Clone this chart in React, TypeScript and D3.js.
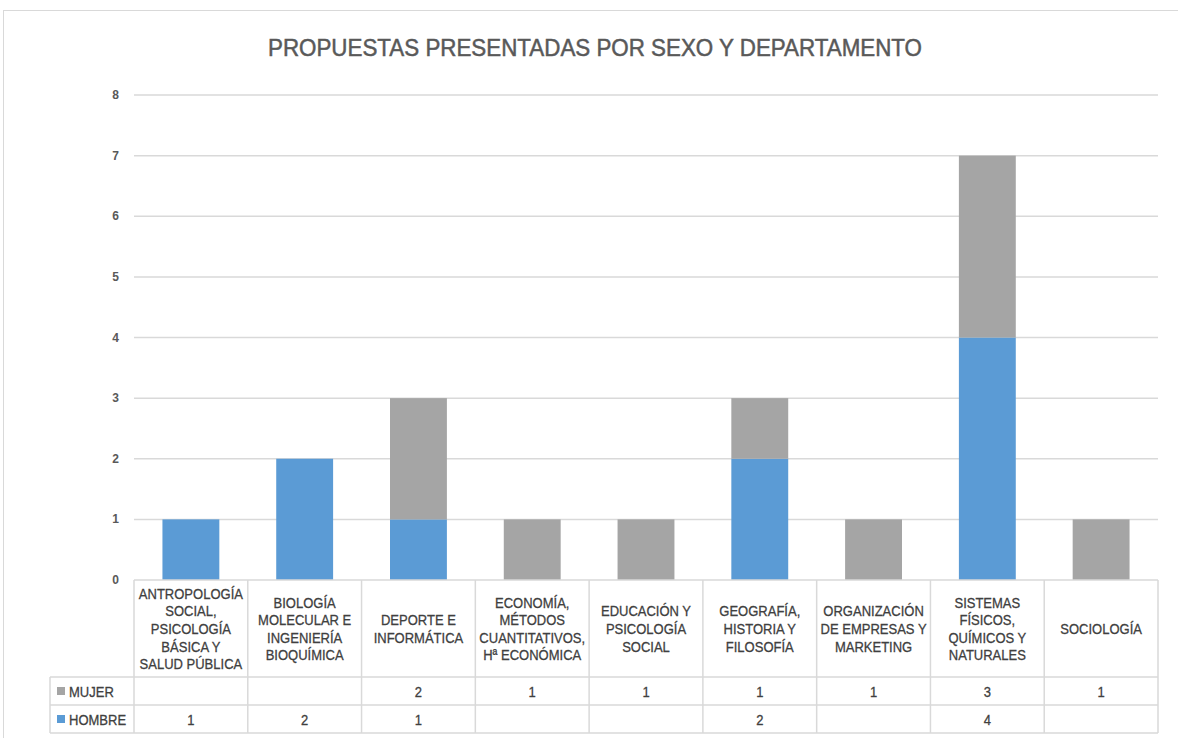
import React from "react";
import * as d3 from "d3";

const title = "PROPUESTAS PRESENTADAS POR SEXO Y DEPARTAMENTO";
const categories = [
  "ANTROPOLOGÍA\nSOCIAL,\nPSICOLOGÍA\nBÁSICA Y\nSALUD PÚBLICA",
  "BIOLOGÍA\nMOLECULAR E\nINGENIERÍA\nBIOQUÍMICA",
  "DEPORTE E\nINFORMÁTICA",
  "ECONOMÍA,\nMÉTODOS\nCUANTITATIVOS,\nHª ECONÓMICA",
  "EDUCACIÓN Y\nPSICOLOGÍA\nSOCIAL",
  "GEOGRAFÍA,\nHISTORIA Y\nFILOSOFÍA",
  "ORGANIZACIÓN\nDE EMPRESAS Y\nMARKETING",
  "SISTEMAS\nFÍSICOS,\nQUÍMICOS Y\nNATURALES",
  "SOCIOLOGÍA",
];
const mujer: (number | null)[] = [null, null, 2, 1, 1, 1, 1, 3, 1];
const hombre: (number | null)[] = [1, 2, 1, null, null, 2, null, 4, null];
const yTicks = [0, 1, 2, 3, 4, 5, 6, 7, 8];

const seriesNames = ["MUJER", "HOMBRE"];
const BLUE = "#5B9BD5";
const GRAY = "#A5A5A5";
const FONT = "'Liberation Sans', Arial, sans-serif";
const SX = 0.84;

function NarrowText({ x, y, anchor = "middle", size = 15.5, fill = "#404040", children }: any) {
  return (
    <text transform={`translate(${x},${y}) scale(${SX},1)`} textAnchor={anchor} fontSize={size} fill={fill} stroke={fill} strokeWidth={0.3}>
      {children}
    </text>
  );
}

export default function App() {
  const W = 1178, H = 738;
  const left = 134, right = 1158, top = 95, bottom = 580;
  const x = d3.scaleBand<number>().domain(d3.range(categories.length)).range([left, right]).paddingInner(0).paddingOuter(0);
  const y = d3.scaleLinear().domain([0, 8]).range([bottom, top]);
  const bw = x.bandwidth() * 0.5;
  const rowCat = [580, 677];
  const rowM = [677, 705];
  const rowH = [705, 733];
  const legendLeft = 50;
  const lineH = 17.6;
  const border = "#D9D9D9";

  return (
    <svg width={W} height={H} style={{ position: "absolute", left: 0, top: 0, background: "#fff" }} fontFamily={FONT}>
      <rect x={3.5} y={10.5} width={W + 10} height={H + 10} fill="#fff" stroke={border} />
      <text x={268} y={56} fontSize={24} fill="#595959" stroke="#595959" strokeWidth={0.5} textLength={654} lengthAdjust="spacingAndGlyphs">{title}</text>
      {yTicks.map((t) => (
        <g key={t}>
          {t > 0 && <line x1={left} x2={right} y1={y(t)} y2={y(t)} stroke={border} strokeWidth={1.5} />}
          <text x={119} y={y(t) + 4} textAnchor="end" fontSize={12} fontWeight="bold" fill="#595959">{t}</text>
        </g>
      ))}
      {categories.map((c, i) => {
        const h = hombre[i] ?? 0;
        const m = mujer[i] ?? 0;
        const bx = (x(i) as number) + (x.bandwidth() - bw) / 2;
        return (
          <g key={i}>
            {h > 0 && <rect x={bx} y={y(h)} width={bw} height={y(0) - y(h)} fill={BLUE} />}
            {m > 0 && <rect x={bx} y={y(h + m)} width={bw} height={y(h) - y(h + m)} fill={GRAY} />}
          </g>
        );
      })}
      {/* table */}
      <g stroke={border} strokeWidth={1.5} fill="none">
        <line x1={left} x2={right} y1={bottom} y2={bottom} />
        <line x1={legendLeft} x2={right} y1={rowM[0]} y2={rowM[0]} />
        <line x1={legendLeft} x2={right} y1={rowH[0]} y2={rowH[0]} />
        <line x1={legendLeft} x2={right} y1={rowH[1]} y2={rowH[1]} />
        <line x1={legendLeft} x2={legendLeft} y1={rowM[0]} y2={rowH[1]} />
        {d3.range(categories.length + 1).map((i) => {
          const xx = i < categories.length ? (x(i) as number) : right;
          return <line key={i} x1={xx} x2={xx} y1={bottom} y2={rowH[1]} />;
        })}
      </g>
      {categories.map((c, i) => {
        const lines = c.split("\n");
        const cx = (x(i) as number) + x.bandwidth() / 2;
        const cy = (rowCat[0] + rowCat[1]) / 2;
        const y0 = cy - ((lines.length - 1) * lineH) / 2 + 5.5;
        return (
          <g key={i}>
            {lines.map((l, j) => (
              <NarrowText key={j} x={cx} y={y0 + j * lineH}>{l}</NarrowText>
            ))}
            {mujer[i] != null && (
              <NarrowText x={cx} y={(rowM[0] + rowM[1]) / 2 + 5.5}>{mujer[i]}</NarrowText>
            )}
            {hombre[i] != null && (
              <NarrowText x={cx} y={(rowH[0] + rowH[1]) / 2 + 5.5}>{hombre[i]}</NarrowText>
            )}
          </g>
        );
      })}
      {seriesNames.map((s, k) => {
        const r = k === 0 ? rowM : rowH;
        const cy = (r[0] + r[1]) / 2;
        return (
          <g key={s}>
            <rect x={57} y={cy - 4} width={8} height={8} fill={k === 0 ? GRAY : BLUE} />
            <NarrowText x={69} y={cy + 5.5} anchor="start">{s}</NarrowText>
          </g>
        );
      })}
    </svg>
  );
}
